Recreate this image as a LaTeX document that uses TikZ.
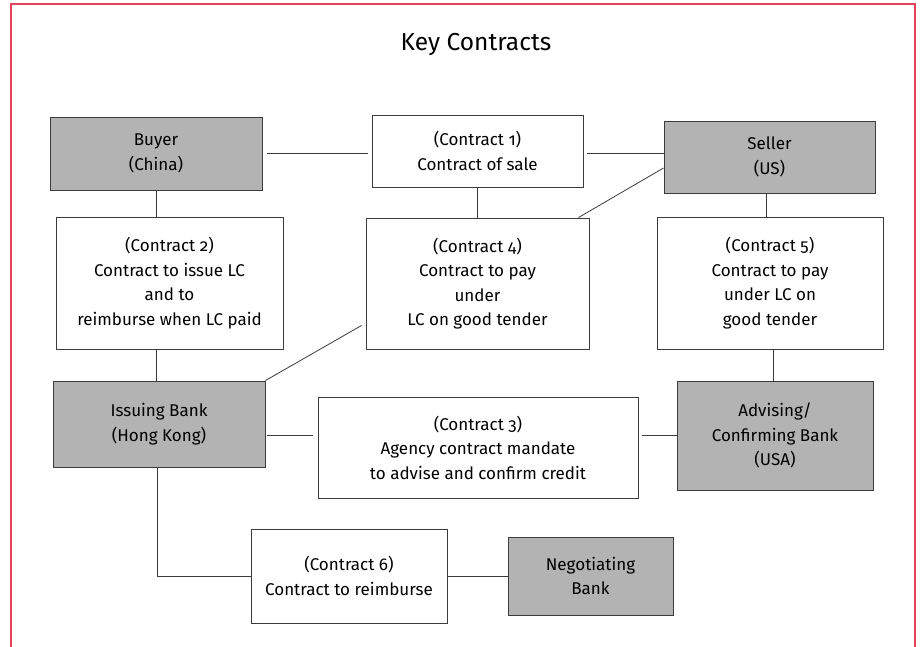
\documentclass[tikz,border=0pt]{standalone}
\usepackage{fontspec}
\setmainfont{Fira Sans}[Numbers=OldStyle]
\definecolor{frame}{RGB}{231,66,92}
\definecolor{boxgray}{RGB}{179,179,179}
\definecolor{edge}{RGB}{60,60,60}
\begin{document}
\begin{tikzpicture}[x=1pt,y=-1pt,
  base/.style={draw=edge,line width=0.9pt,rectangle,align=center,inner sep=0pt,
    font=\fontsize{17}{24.5}\selectfont,text=black},
  gbox/.style={base,fill=boxgray},
  wbox/.style={base,fill=white},
  link/.style={draw=edge,line width=0.8pt}]
\useasboundingbox (0,0) rectangle (920,647);
\fill[white] (0,0) rectangle (920,647);
\draw[frame,line width=2.6pt] (11,700) -- (11,4) -- (915,4) -- (915,700);
\node[font=\fontsize{24.5}{28}\selectfont] (title) at (476,45) {Key Contracts};
\node[gbox,minimum width=212,minimum height=73] (buyer) at (156,153.5) {Buyer\\(China)};
\node[wbox,minimum width=211,minimum height=72] (c1) at (477.5,151) {(Contract 1)\\Contract of sale};
\node[gbox,minimum width=211,minimum height=72] (seller) at (769.5,157) {Seller\\(US)};
\node[wbox,minimum width=227,minimum height=132] (c2) at (169.5,283) {(Contract 2)\\Contract to issue LC\\and to\\reimburse when LC paid};
\node[wbox,minimum width=223,minimum height=131] (c4) at (477.5,283.5) {(Contract 4)\\Contract to pay\\under\\LC on good tender};
\node[wbox,minimum width=226,minimum height=132] (c5) at (770,283) {(Contract 5)\\Contract to pay\\under LC on\\good tender};
\node[gbox,minimum width=212,minimum height=86] (ib) at (159,424) {Issuing Bank\\(Hong Kong)};
\node[wbox,minimum width=320,minimum height=101] (c3) at (478,447.5) {(Contract 3)\\Agency contract mandate\\to advise and confirm credit};
\node[gbox,minimum width=196,minimum height=109] (acb) at (775,435.5) {Advising/\\Confirming Bank\\(USA)};
\node[wbox,minimum width=196,minimum height=94] (c6) at (349,576) {(Contract 6)\\Contract to reimburse};
\node[gbox,minimum width=165,minimum height=78] (nb) at (590.5,576) {Negotiating\\Bank};
% connectors
\draw[link] ([xshift=5pt]buyer.east) -- ([xshift=-4pt]buyer.east -| c1.west);
\draw[link] ([xshift=4pt]c1.east |- buyer.east) -- (seller.west |- buyer.east);
\draw[link] (buyer.south) -- (buyer.south |- c2.north);
\draw[link] (c2.south -| buyer.south) -- (ib.north -| buyer.south);
\draw[link] (c1.south) -- (c4.north);
\draw[link] ([yshift=-11pt]seller.west) -- ([xshift=-11pt]c4.north east);
\draw[link] ([xshift=-4pt,yshift=24pt]c4.south west) -- (ib.north east);
\draw[link] ([xshift=-3.5pt]seller.south) -- ([xshift=-3.5pt]seller.south |- c5.north);
\draw[link] ([xshift=3pt]c5.south) -- ([xshift=3pt]c5.south |- acb.north);
\draw[link] ([xshift=2pt,yshift=-11pt]ib.east) -- ([xshift=-5pt,yshift=-11pt]ib.east -| c3.west);
\draw[link] ([xshift=4pt]c3.east |- acb.west) -- (acb.west);
\draw[link] ([xshift=-2pt]ib.south) |- (c6.west);
\draw[link] (c6.east) -- (nb.west);
\end{tikzpicture}
\end{document}
